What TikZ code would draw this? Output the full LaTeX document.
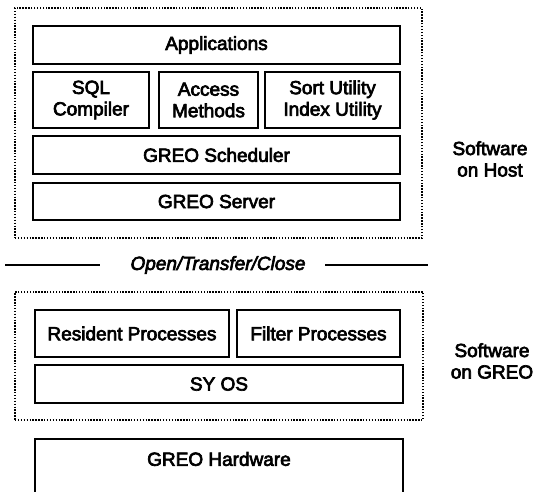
\documentclass[tikz,border=0pt]{standalone}
\usepackage{fontspec}
\setmainfont{Liberation Sans}
\newfontfamily\lab[FakeBold=3.5]{Liberation Sans}
\begin{document}
\begin{tikzpicture}[x=1pt,y=-1pt,
  box/.style={draw, line width=2.2pt, inner sep=0pt, align=center,
    font=\lab\fontsize{19}{21.5}\selectfont},
  dotbox/.style={draw, line width=1.6pt, dash pattern=on 1.4pt off 1.5pt, inner sep=0pt},
  side/.style={align=center, inner sep=0pt, font=\lab\fontsize{19}{21.5}\selectfont},
  rule/.style={line width=1.8pt}]
\useasboundingbox (0,0) rectangle (533,491);
\clip (0,0) rectangle (533,491);
% host software
\node[dotbox, minimum width=407pt, minimum height=230pt] (host) at (218.5,123) {};
\node[box, minimum width=367pt, minimum height=38pt] (app) at (216.5,45) {Applications};
\node[box, minimum width=116pt, minimum height=56pt] (sql) at (91,100) {SQL\\Compiler};
\node[box, minimum width=99pt, minimum height=56pt] (acc) at (208.5,100) {Access\\Methods};
\node[box, minimum width=135pt, minimum height=56pt] (sort) at (332.5,100) {Sort Utility\\Index Utility};
\node[box, minimum width=367pt, minimum height=38pt] (sch) at (216.5,155) {GREO Scheduler};
\node[box, minimum width=367pt, minimum height=37pt] (srv) at (216.5,201.5) {GREO Server};
\node[side] (hostlab) at (490,159) {Software\\on Host};
% separator
\node[side, font=\lab\itshape\fontsize{19}{21.5}\selectfont] (otc) at (218,265) {Open/Transfer/Close};
\coordinate (l1) at (5,265);
\coordinate (r1) at (428,265);
\draw[rule] (l1) -- (otc.west -| 100,0);
\draw[rule] (otc.east -| 325,0) -- (r1);
% GREO software
\node[dotbox, minimum width=408pt, minimum height=128pt] (greo) at (219,356) {};
\node[box, minimum width=194pt, minimum height=47pt] (res) at (132,333.5) {Resident Processes};
\node[box, minimum width=163pt, minimum height=47pt] (fil) at (318.5,333.5) {Filter Processes};
\node[box, minimum width=368pt, minimum height=38pt] (syos) at (219,384) {SY OS};
\node[side] (greolab) at (492,361) {Software\\on GREO};
% hardware
\node[box, minimum width=368pt, minimum height=80pt, anchor=north] (hw) at (219,438) {};
\node[side] (hwt) at (219,459) {GREO Hardware};
\end{tikzpicture}
\end{document}
